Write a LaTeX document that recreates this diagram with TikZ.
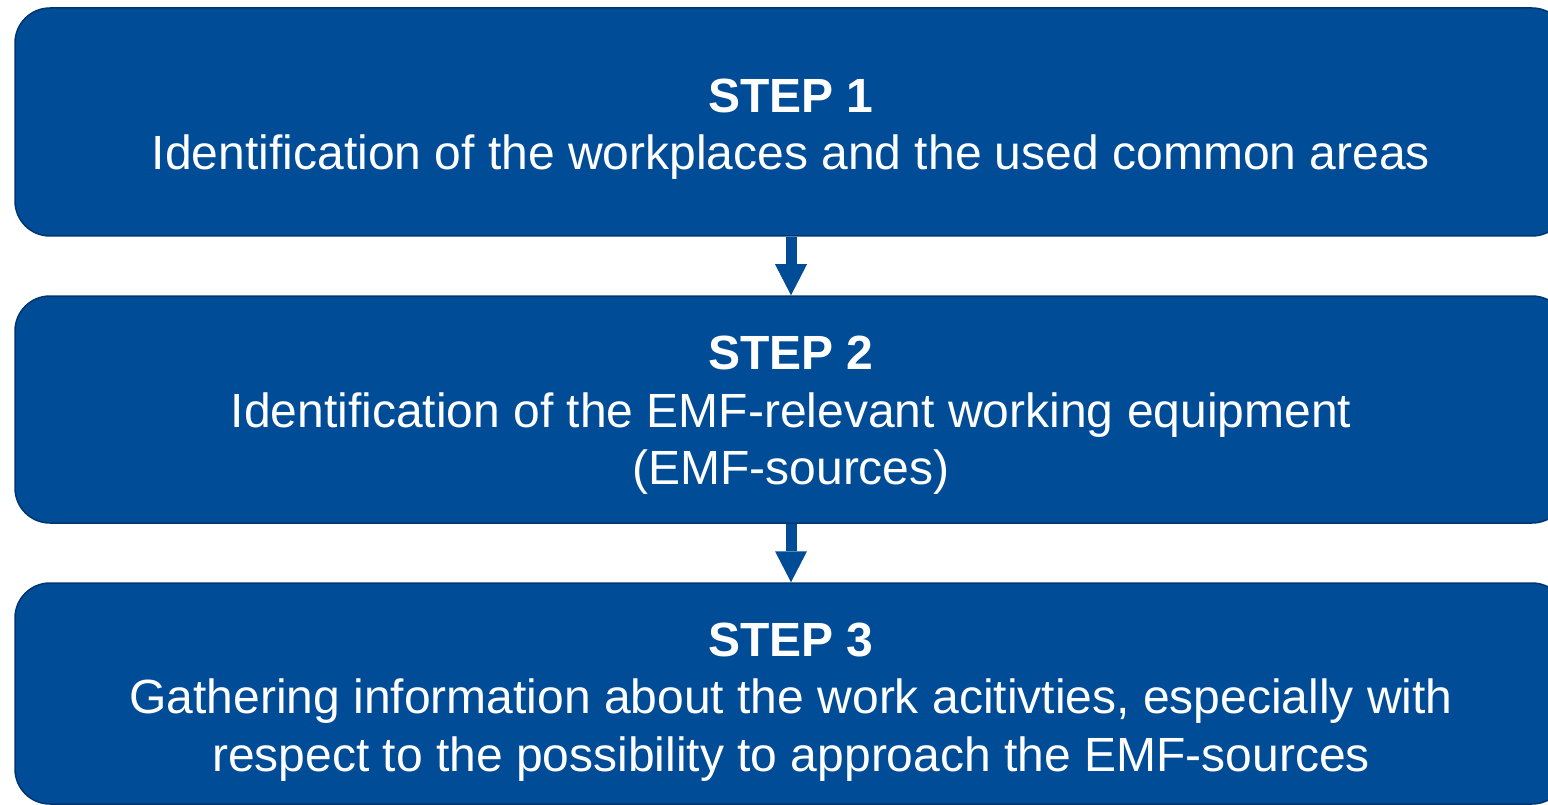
\documentclass[tikz,border=0pt]{standalone}
\usepackage{fontspec}
\setmainfont{Liberation Sans}
\usetikzlibrary{arrows.meta}
\definecolor{stepblue}{RGB}{0,76,151}
\definecolor{stepedge}{RGB}{0,54,112}
\begin{document}
\begin{tikzpicture}[x=1pt,y=-1pt,
  stepbox/.style={fill=stepblue, draw=stepedge, line width=1.5pt,
    rounded corners=35pt, minimum width=1552pt, inner sep=0pt},
  steptext/.style={text=white, align=center, inner sep=0pt,
    font=\fontsize{48}{57.5}\selectfont},
  flow/.style={draw=stepblue, line width=11pt,
    -{Triangle[width=32pt,length=31pt,line width=0pt]}}]
\useasboundingbox (0,0) rectangle (1548,805);
\clip (0,0) rectangle (1548,805);

% the three process boxes
\node[stepbox, minimum height=228pt] (s1) at (791,122) {};
\node[stepbox, minimum height=227pt] (s2) at (791,409.5) {};
\node[stepbox, minimum height=221pt] (s3) at (791,693.5) {};

% their captions
\node[steptext] (t1) at (791,129) {\textbf{STEP 1}\\
  Identification of the workplaces and the used common areas};
\node[steptext] (t2) at (791,415.5) {\textbf{STEP 2}\\
  Identification of the EMF-relevant working equipment\\(EMF-sources)};
\node[steptext] (t3) at (791,702) {\textbf{STEP 3}\\
  Gathering information about the work acitivties, especially with\\
  respect to the possibility to approach the EMF-sources};

% flow between the steps
\draw[flow] (s1.south) -- (s2.north);
\draw[flow] (s2.south) -- (s3.north);
\end{tikzpicture}
\end{document}
